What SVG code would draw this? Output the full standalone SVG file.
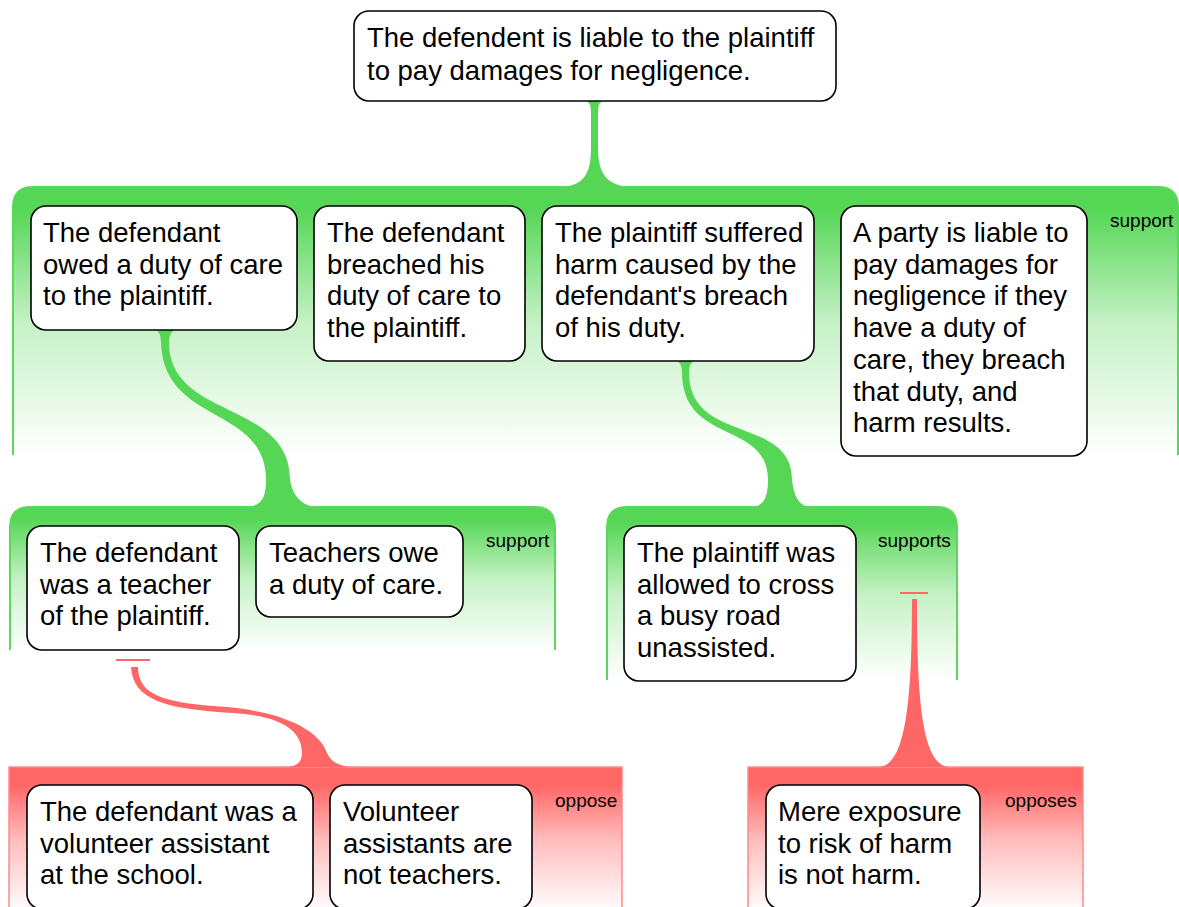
<svg xmlns="http://www.w3.org/2000/svg" width="1179" height="907" viewBox="0 0 1179 907">
<defs>
<linearGradient id="gG" x1="0" y1="0" x2="0" y2="1">
<stop offset="0" stop-color="#55d655"/>
<stop offset="0.08" stop-color="#55d655"/>
<stop offset="0.5" stop-color="#c4f1c4"/>
<stop offset="1" stop-color="#ffffff"/>
</linearGradient>
<linearGradient id="gR" x1="0" y1="0" x2="0" y2="1">
<stop offset="0" stop-color="#ff6666"/>
<stop offset="0.12" stop-color="#ff6666"/>
<stop offset="0.5" stop-color="#ffbcbc"/>
<stop offset="1" stop-color="#ffffff"/>
</linearGradient>
</defs>
<style>
.pg{fill:url(#gG);stroke:#5ad85a;stroke-width:2}
.pr{fill:url(#gR);stroke:#ff8a8a;stroke-width:1.5}
.cg{fill:#55d655;stroke:none}
.cr{fill:#ff6666;stroke:none}
.bar{stroke:#ff6666;stroke-width:2;fill:none}
.box{fill:#fff;stroke:#000;stroke-width:1.6}
.t{font-family:"Liberation Sans",Arial,sans-serif;font-size:27.5px;fill:#000}
.lb{font-family:"Liberation Sans",Arial,sans-serif;font-size:19px;fill:#000}
</style>
<rect width="1179" height="907" fill="#fff"/>
<g id="panels">
<path class="pg" d="M13,455 L13,207 Q13,187 33,187 L1158,187 Q1178,187 1178,207 L1178,455"/>
<path class="pg" d="M10,650 L10,527 Q10,507 30,507 L535,507 Q555,507 555,527 L555,650"/>
<path class="pg" d="M607,680 L607,527 Q607,507 627,507 L937,507 Q957,507 957,527 L957,680"/>
<path class="pr" d="M9,912 L9,767 L622,767 L622,912"/>
<path class="pr" d="M748,912 L748,767 L1083,767 L1083,912"/>
<text class="lb" x="1110" y="227">support</text>
<text class="lb" x="486" y="547">support</text>
<text class="lb" x="878" y="547">supports</text>
<text class="lb" x="555" y="807">oppose</text>
<text class="lb" x="1005" y="807">opposes</text>
</g>
<g id="connectors">
<path class="cg" d="M584,100 Q591,101 591,112 L591,148 C591,176 582,187 558,187 L634,187 C609,187 598,176 598,148 L598,112 Q598,101 605,100 Z"/>
<path class="cg" d="M154,329 Q161,331 161,342 C163,425 266,405 266,480 C266,500 260,507 244,507 L319,507 C303,507 293,497 290,480 C290,400 169,420 169,342 Q169,331 177,329 Z"/>
<path class="cg" d="M675,360 Q682,362 682,372 C682,445 768,420 768,480 C768,500 762,507 750,507 L812,507 C800,507 794,498 792,480 C792,415 689,445 689,372 Q689,362 696,360 Z"/>
<line class="bar" x1="900" y1="593" x2="928" y2="593"/>
<path class="cr" d="M912,599 L917,599 C917,700 922,767 950,767 L878,767 C906,767 912,700 912,599 Z"/>
<line class="bar" x1="116" y1="660" x2="150" y2="660"/>
<path class="cr" d="M131,667 L138,667 C138,698 170,703 227,707 C280,712 318,728 327,753 Q333,767 355,767 L285,767 Q302,767 302,753 C302,730 280,716 233,713 C165,709 133,700 131,667 Z"/>
</g>
<g id="n-top"><rect class="box" x="354" y="11" width="482" height="90" rx="15"/>
<text class="t" x="367" y="47">The defendent is liable to the plaintiff</text>
<text class="t" x="367" y="79.5">to pay damages for negligence.</text></g>
<g id="n-duty"><rect class="box" x="31" y="206" width="266" height="124" rx="15"/>
<text class="t" x="43" y="242">The defendant</text>
<text class="t" x="43" y="273.7">owed a duty of care</text>
<text class="t" x="43" y="305.4">to the plaintiff.</text></g>
<g id="n-breach"><rect class="box" x="314" y="206" width="211" height="155" rx="15"/>
<text class="t" x="327" y="242">The defendant</text>
<text class="t" x="327" y="273.7">breached his</text>
<text class="t" x="327" y="305.4">duty of care to</text>
<text class="t" x="327" y="337.1">the plaintiff.</text></g>
<g id="n-harm"><rect class="box" x="542" y="206" width="272" height="155" rx="15"/>
<text class="t" x="555" y="242">The plaintiff suffered</text>
<text class="t" x="555" y="273.7">harm caused by the</text>
<text class="t" x="555" y="305.4">defendant's breach</text>
<text class="t" x="555" y="337.1">of his duty.</text></g>
<g id="n-rule"><rect class="box" x="841" y="206" width="246" height="250" rx="15"/>
<text class="t" x="853" y="242">A party is liable to</text>
<text class="t" x="853" y="273.7">pay damages for</text>
<text class="t" x="853" y="305.4">negligence if they</text>
<text class="t" x="853" y="337.1">have a duty of</text>
<text class="t" x="853" y="368.8">care, they breach</text>
<text class="t" x="853" y="400.5">that duty, and</text>
<text class="t" x="853" y="432.2">harm results.</text></g>
<g id="n-teacher"><rect class="box" x="27" y="526" width="212" height="124" rx="15"/>
<text class="t" x="40" y="562">The defendant</text>
<text class="t" x="40" y="593.7">was a teacher</text>
<text class="t" x="40" y="625.4">of the plaintiff.</text></g>
<g id="n-teachers-owe"><rect class="box" x="256" y="526" width="207" height="91" rx="15"/>
<text class="t" x="269" y="562">Teachers owe</text>
<text class="t" x="269" y="593.7">a duty of care.</text></g>
<g id="n-road"><rect class="box" x="624" y="526" width="232" height="155" rx="15"/>
<text class="t" x="637" y="562">The plaintiff was</text>
<text class="t" x="637" y="593.7">allowed to cross</text>
<text class="t" x="637" y="625.4">a busy road</text>
<text class="t" x="637" y="657.1">unassisted.</text></g>
<g id="n-volunteer"><rect class="box" x="27" y="785" width="286" height="124" rx="15"/>
<text class="t" x="40" y="821">The defendant was a</text>
<text class="t" x="40" y="852.7">volunteer assistant</text>
<text class="t" x="40" y="884.4">at the school.</text></g>
<g id="n-not-teachers"><rect class="box" x="330" y="785" width="202" height="124" rx="15"/>
<text class="t" x="343" y="821">Volunteer</text>
<text class="t" x="343" y="852.7">assistants are</text>
<text class="t" x="343" y="884.4">not teachers.</text></g>
<g id="n-exposure"><rect class="box" x="766" y="785" width="214" height="124" rx="15"/>
<text class="t" x="778" y="821">Mere exposure</text>
<text class="t" x="778" y="852.7">to risk of harm</text>
<text class="t" x="778" y="884.4">is not harm.</text></g>
</svg>
